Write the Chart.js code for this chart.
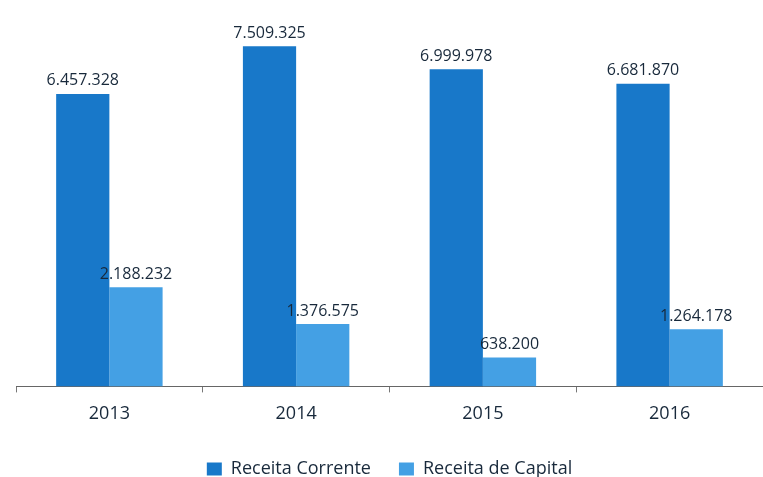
<!DOCTYPE html>
<html>
<head>
<meta charset="utf-8">
<script src="https://cdn.jsdelivr.net/npm/chart.js@4/dist/chart.umd.min.js"></script>
<style>
  html, body { margin: 0; padding: 0; background: #fff; }
  #wrap { width: 763px; height: 477px; }
</style>
</head>
<body>
<div id="wrap"><canvas id="myChart" width="763" height="477"></canvas></div>
<script>
const years = ['2013', '2014', '2015', '2016'];
const receitaCorrente = [6457328, 7509325, 6999978, 6681870];
const receitaCapital = [2188232, 1376575, 638200, 1264178];
const seriesNames = ['Receita Corrente', 'Receita de Capital'];

const textColor = '#18293b';
const fontFamily = '"Open Sans", "Noto Sans", sans-serif';

// formato pt-BR: 6.457.328
const fmt = v => v.toString().replace(/\B(?=(\d{3})+(?!\d))/g, '.');

// rótulos em cima das barras
const valueLabels = {
    id: 'valueLabels',
    afterDatasetsDraw(chart) {
        const ctx = chart.ctx;
        ctx.save();
        ctx.font = '16px ' + fontFamily;
        ctx.fillStyle = textColor;
        ctx.textAlign = 'center';
        ctx.textBaseline = 'bottom';
        chart.data.datasets.forEach((ds, i) => {
            chart.getDatasetMeta(i).data.forEach((bar, j) => {
                ctx.fillText(fmt(ds.data[j]), bar.x, bar.y - 5);
            });
        });
        ctx.restore();
    }
};

const ctx = document.getElementById('myChart').getContext('2d');
new Chart(ctx, {
    type: 'bar',
    data: {
        labels: years,
        datasets: [{
            label: seriesNames[0],
            data: receitaCorrente,
            backgroundColor: '#1878c9',
            categoryPercentage: 0.57,
            barPercentage: 1.0
        }, {
            label: seriesNames[1],
            data: receitaCapital,
            backgroundColor: '#44a0e4',
            categoryPercentage: 0.57,
            barPercentage: 1.0
        }]
    },
    options: {
        responsive: false,
        animation: false,
        layout: { padding: { left: 16, right: 0, top: 24, bottom: -11 } },
        scales: {
            x: {
                grid: { display: true, drawOnChartArea: false, offset: true, tickLength: 6, color: '#777' },
                border: { display: true, color: '#666', width: 1 },
                ticks: { color: textColor, font: { family: fontFamily, size: 18 }, padding: 11 },
                afterFit: scale => { scale.height -= 4; }
            },
            y: {
                display: false,
                min: 0,
                max: 8000000
            }
        },
        plugins: {
            legend: {
                position: 'bottom',
                labels: {
                    color: textColor,
                    font: { family: fontFamily, size: 18 },
                    boxWidth: 15,
                    boxHeight: 13,
                    padding: 28
                }
            },
            tooltip: { enabled: false }
        }
    },
    plugins: [valueLabels]
});
</script>
</body>
</html>
